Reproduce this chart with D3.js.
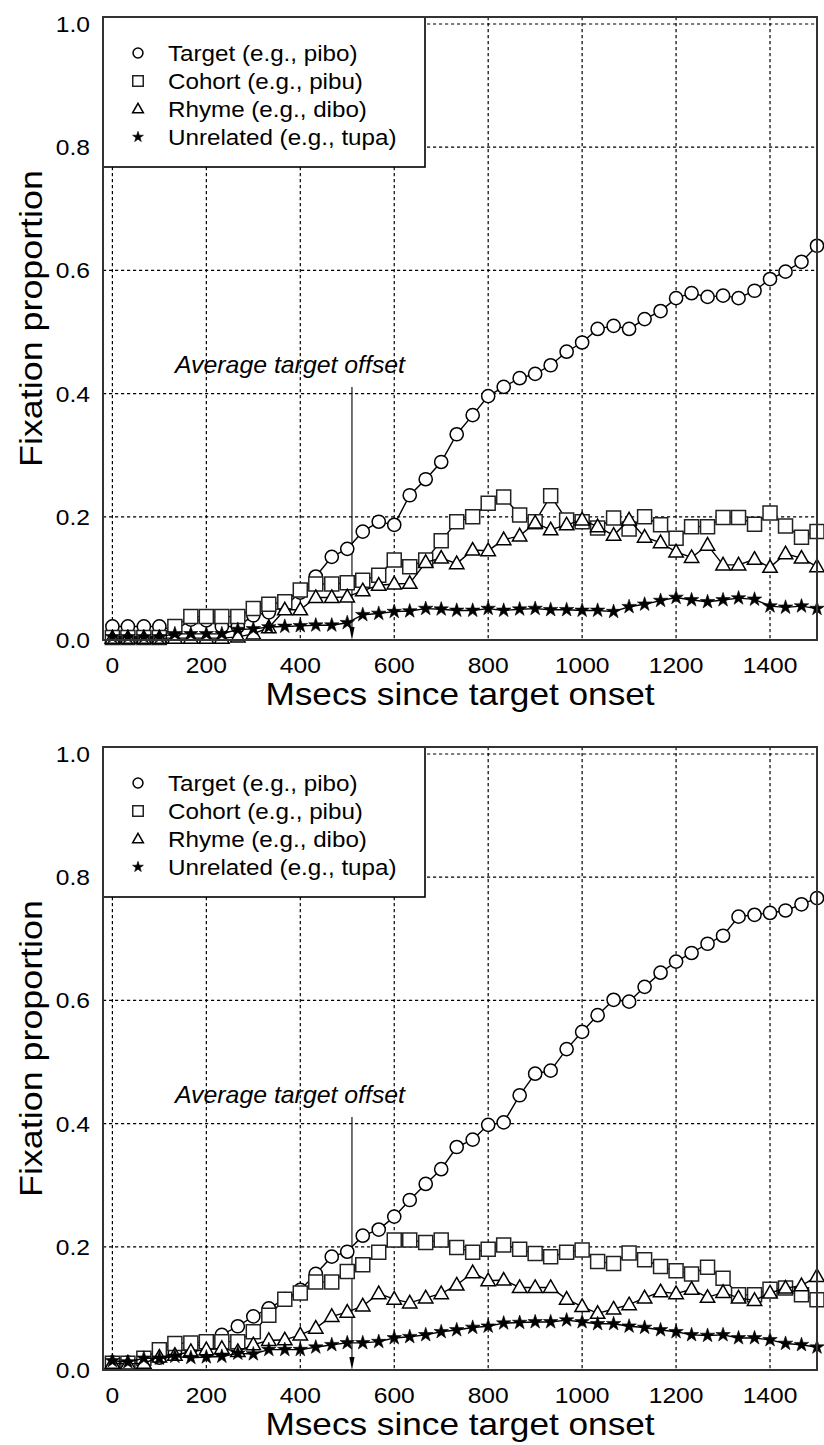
<!DOCTYPE html>
<html>
<head>
<meta charset="utf-8">
<script src="https://cdn.jsdelivr.net/npm/d3@7"></script>
<style>
  html, body { margin: 0; padding: 0; background: #fff; }
  svg { display: block; }
  text { font-family: "Liberation Sans", Arial, Helvetica, sans-serif; fill: #000; }
</style>
</head>
<body>
<svg id="chart" width="824" height="1445"></svg>
<script>
// Time bins (ms since target onset)
const msecs = [0,33,67,100,133,167,200,233,267,300,333,367,400,433,467,500,533,567,600,633,667,700,733,767,800,833,867,900,933,967,1000,1033,1067,1100,1133,1167,1200,1233,1267,1300,1333,1367,1400,1433,1467,1500];

// Upper panel: fixation proportions
const topTarget = [0.022,0.022,0.022,0.022,0.015,0.033,0.032,0.022,0.022,0.04,0.045,0.055,0.077,0.103,0.135,0.148,0.176,0.192,0.187,0.235,0.261,0.289,0.334,0.365,0.396,0.411,0.425,0.432,0.446,0.468,0.483,0.505,0.510,0.505,0.521,0.534,0.555,0.563,0.557,0.559,0.555,0.567,0.586,0.598,0.614,0.640];
const topCohort = [0.004,0.004,0.004,0.004,0.022,0.038,0.038,0.038,0.038,0.051,0.058,0.062,0.081,0.091,0.091,0.093,0.097,0.105,0.13,0.119,0.13,0.161,0.192,0.2,0.222,0.232,0.203,0.192,0.234,0.195,0.192,0.182,0.198,0.18,0.2,0.187,0.165,0.184,0.184,0.199,0.199,0.188,0.206,0.185,0.167,0.176];
const topRhyme = [0.003,0.003,0.003,0.003,0.003,0.003,0.003,0.003,0.005,0.01,0.02,0.049,0.049,0.069,0.069,0.07,0.08,0.089,0.091,0.092,0.126,0.133,0.124,0.146,0.145,0.163,0.169,0.19,0.179,0.187,0.195,0.184,0.17,0.195,0.167,0.158,0.143,0.134,0.154,0.122,0.122,0.131,0.118,0.14,0.133,0.119];
const topUnrelated = [0.005,0.005,0.005,0.005,0.01,0.01,0.01,0.01,0.017,0.018,0.021,0.022,0.023,0.024,0.024,0.028,0.041,0.043,0.046,0.047,0.051,0.05,0.048,0.048,0.051,0.048,0.05,0.051,0.049,0.049,0.048,0.048,0.046,0.054,0.058,0.064,0.069,0.065,0.062,0.065,0.068,0.066,0.055,0.053,0.055,0.051];

// Lower panel: fixation proportions
const botTarget = [0.012,0.012,0.015,0.02,0.028,0.036,0.045,0.057,0.071,0.087,0.1,0.115,0.13,0.156,0.184,0.192,0.218,0.228,0.249,0.276,0.302,0.326,0.362,0.374,0.398,0.402,0.446,0.481,0.486,0.521,0.549,0.576,0.601,0.598,0.622,0.645,0.663,0.677,0.692,0.705,0.736,0.739,0.742,0.746,0.756,0.766];
const botCohort = [0.011,0.011,0.019,0.033,0.043,0.044,0.046,0.046,0.046,0.062,0.089,0.115,0.125,0.143,0.143,0.16,0.171,0.191,0.211,0.211,0.207,0.211,0.199,0.191,0.196,0.203,0.196,0.189,0.184,0.191,0.195,0.176,0.173,0.19,0.179,0.168,0.161,0.156,0.167,0.149,0.122,0.122,0.131,0.133,0.122,0.114];
const botRhyme = [0.011,0.01,0.011,0.021,0.024,0.03,0.033,0.035,0.03,0.041,0.048,0.049,0.057,0.068,0.087,0.094,0.104,0.124,0.115,0.109,0.117,0.124,0.138,0.158,0.145,0.146,0.134,0.134,0.134,0.115,0.103,0.092,0.099,0.106,0.117,0.127,0.124,0.131,0.118,0.126,0.117,0.113,0.125,0.133,0.137,0.152];
const botUnrelated = [0.015,0.013,0.019,0.019,0.022,0.02,0.021,0.022,0.027,0.026,0.033,0.033,0.033,0.037,0.041,0.044,0.044,0.046,0.052,0.054,0.057,0.062,0.065,0.069,0.071,0.076,0.077,0.078,0.078,0.081,0.078,0.075,0.075,0.071,0.069,0.065,0.062,0.057,0.056,0.057,0.052,0.052,0.049,0.043,0.041,0.037];

const seriesNames = ["Target (e.g., pibo)", "Cohort (e.g., pibu)", "Rhyme (e.g., dibo)", "Unrelated (e.g., tupa)"];
const seriesShapes = ["circle", "square", "triangle", "star"];
const xTicks = [0, 200, 400, 600, 800, 1000, 1200, 1400];
const yTicks = [0.0, 0.2, 0.4, 0.6, 0.8, 1.0];
const offsetMs = 510;
const offsetLabel = "Average target offset";
const xTitle = "Msecs since target onset";
const yTitle = "Fixation proportion";

const svg = d3.select("#chart");
svg.append("rect").attr("width", 824).attr("height", 1445).attr("fill", "#fff");

const plot = { left: 103, right: 817, top: 17, bottom: 640 };
const x = d3.scaleLinear().domain([-20, 1500]).range([plot.left, plot.right]);
const y = d3.scaleLinear().domain([0, 1.0114]).range([plot.bottom, plot.top]);

// Text with a slight horizontal stretch
function stretchedText(g, str, tx, ty, size, sx, anchor, extra) {
  const t = g.append("text")
    .attr("transform", `translate(${tx},${ty}) scale(${sx},1)`)
    .attr("font-size", size)
    .attr("text-anchor", anchor || "start")
    .text(str);
  if (extra) extra(t);
  return t;
}

function markerPath(shape, cx, cy, s) {
  if (shape === "square") {
    return `M${cx - s},${cy - s}h${2 * s}v${2 * s}h${-2 * s}Z`;
  }
  if (shape === "triangle") {
    const h = s * 1.75;
    return `M${cx},${cy - h * 0.6}L${cx + s},${cy + h * 0.4}L${cx - s},${cy + h * 0.4}Z`;
  }
  return "";
}

function drawMarker(g, shape, cx, cy, scale) {
  if (shape === "circle") {
    g.append("circle").attr("cx", cx).attr("cy", cy).attr("r", 6.6 * scale)
      .attr("fill", "#fff").attr("stroke", "#000").attr("stroke-width", 1.5);
  } else if (shape === "square") {
    g.append("path").attr("d", markerPath("square", cx, cy, 7 * scale))
      .attr("fill", "#fff").attr("stroke", "#222").attr("stroke-width", 1.5);
  } else if (shape === "triangle") {
    g.append("path").attr("d", markerPath("triangle", cx, cy, 7.2 * scale))
      .attr("fill", "#fff").attr("stroke", "#000").attr("stroke-width", 1.5);
  } else {
    const R = 7.6 * scale;
    g.append("path")
      .attr("d", d3.symbol(d3.symbolStar, R * R / 0.8908130915292852)())
      .attr("transform", `translate(${cx},${cy})`)
      .attr("fill", "#000").attr("stroke", "#000").attr("stroke-width", 0.6)
      .attr("stroke-linejoin", "round");
  }
}

function drawPanel(dy, seriesList) {
  const g = svg.append("g").attr("transform", `translate(0,${dy})`);

  // dotted grid
  const grid = g.append("g").attr("stroke", "#000").attr("stroke-width", 1.2)
    .attr("stroke-dasharray", "3.2,2.8");
  grid.selectAll(".vx").data(xTicks).join("line")
    .attr("x1", d => x(d)).attr("x2", d => x(d))
    .attr("y1", plot.top).attr("y2", plot.bottom);
  grid.selectAll(".hy").data(yTicks.filter(d => d > 0)).join("line")
    .attr("x1", plot.left).attr("x2", plot.right)
    .attr("y1", d => y(d)).attr("y2", d => y(d));

  // legend box
  const lg = g.append("g");
  lg.append("rect").attr("x", plot.left).attr("y", plot.top)
    .attr("width", 322).attr("height", 150)
    .attr("fill", "#fff").attr("stroke", "#000").attr("stroke-width", 1.6);
  seriesNames.forEach((name, i) => {
    const cy = 53 + i * 28;
    drawMarker(lg, seriesShapes[i], 138, cy, 0.75);
    stretchedText(lg, name, 168, cy + 8, 22, 1.1, "start");
  });

  // offset annotation
  const ax = x(offsetMs);
  g.append("line").attr("x1", ax).attr("x2", ax).attr("y1", 387).attr("y2", plot.bottom - 8)
    .attr("stroke", "#000").attr("stroke-width", 1.1);
  g.append("path")
    .attr("d", `M${ax - 2.6},${plot.bottom - 13}L${ax + 2.6},${plot.bottom - 13}L${ax},${plot.bottom}Z`)
    .attr("fill", "#000");
  stretchedText(g, offsetLabel, 175, 373, 23, 1.08, "start", t => t.attr("font-style", "italic"));

  // series: line then markers
  seriesList.forEach((vals, si) => {
    const pts = msecs.map((m, i) => [x(m), y(vals[i])]);
    g.append("path").attr("d", d3.line()(pts))
      .attr("fill", "none").attr("stroke", "#000").attr("stroke-width", 1.4);
    const mg = g.append("g");
    pts.forEach(p => drawMarker(mg, seriesShapes[si], p[0], p[1], 1));
  });

  // frame
  g.append("rect").attr("x", plot.left).attr("y", plot.top)
    .attr("width", plot.right - plot.left).attr("height", plot.bottom - plot.top)
    .attr("fill", "none").attr("stroke", "#333").attr("stroke-width", 2);

  // tick labels
  yTicks.forEach(v => {
    stretchedText(g, d3.format(".1f")(v), 90, y(v) + 8, 22, 1.12, "end");
  });
  xTicks.forEach(v => {
    stretchedText(g, String(v), x(v), 673, 22, 1.12, "middle");
  });

  // axis titles
  stretchedText(g, xTitle, (plot.left + plot.right) / 2, 705, 32, 1.1, "middle");
  g.append("text")
    .attr("transform", `translate(42,${(plot.top + plot.bottom) / 2 - 10}) rotate(-90) scale(1.12,1)`)
    .attr("font-size", 32).attr("text-anchor", "middle").text(yTitle);
}

drawPanel(0, [topTarget, topCohort, topRhyme, topUnrelated]);
drawPanel(730, [botTarget, botCohort, botRhyme, botUnrelated]);
</script>
</body>
</html>
